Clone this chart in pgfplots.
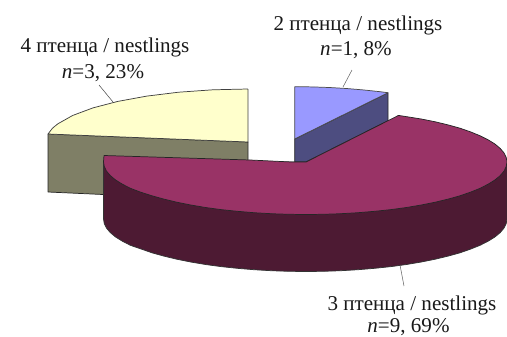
\documentclass[border=0pt]{standalone}
\usepackage{fontspec}
\setmainfont{Liberation Serif}
\usepackage{pgfplots}
\pgfplotsset{compat=1.18}
\definecolor{yellowtop}{HTML}{FFFFCC}
\definecolor{yellowside}{HTML}{7F7F66}
\definecolor{bluetop}{HTML}{9999FF}
\definecolor{blueside}{HTML}{4D4D80}
\definecolor{maroontop}{HTML}{993366}
\definecolor{maroonside}{HTML}{4D1A33}
\tikzset{lab/.style={font=\fontsize{15.8}{16}\selectfont, anchor=base, text=black!90, inner sep=0pt}}
\begin{document}
\begin{tikzpicture}
\useasboundingbox (0,0) rectangle (380.25pt,252pt);
\begin{axis}[
  scale only axis, width=380.25pt, height=252pt,
  xmin=0, xmax=507, ymin=0, ymax=336, y dir=reverse,
  hide axis, clip=false,
  every axis plot/.append style={line join=round, line width=0.55pt},
]
% 4 nestlings: side wall, then top face
\addplot[fill=yellowside, draw=black!85] coordinates {
  (48,134) (248,142) (248,200) (103,194.5) (48,192) (48,134)};
\addplot[fill=yellowtop, draw=black!75] coordinates {
  (248,89) (212.8,89.8) (178.7,92.2) (146.8,96.1) (117.8,101.4) (92.9,107.9)
  (72.6,115.5) (57.7,123.9) (52.4,128.3) (48,134) (248,142) (248,89)};
% 2 nestlings: side wall, then top face
\addplot[fill=blueside, draw=black!85] coordinates {
  (388,92.7) (388,120.7) (306,162) (294.7,162) (294.7,139) (388,92.7)};
\addplot[fill=bluetop, draw=black!70] coordinates {
  (294.7,86.7) (312.1,86.9) (329.4,87.5) (346.5,88.5) (363.1,89.9) (379.2,91.6)
  (388,92.7) (294.7,139) (294.7,86.7)};
% 3 nestlings: side wall, then top face
\addplot[fill=maroonside, draw=black!80] coordinates {
  (103.5,162) (103.5,219) (104.3,223.6) (106.5,228.1) (110.3,232.6) (115.6,237)
  (122.4,241.2) (130.4,245.3) (141.4,249.1) (152,252.8) (163.9,256.1) (176.8,259.2)
  (190.7,262) (205.5,264.5) (221,266.6) (237.3,268.3) (254,269.7) (271,270.7)
  (288.5,271.3) (306,271.5) (323.5,271.3) (341,270.7) (358,269.7) (374.7,268.3)
  (391,266.6) (406.5,264.5) (421.3,262) (435.2,259.2) (448.1,256.1) (460,252.8)
  (470.6,249.1) (480.1,245.3) (488.1,241.2) (494.9,237) (500.2,232.6) (504,228.1)
  (506.2,223.6) (507,219) (507,162) (103.5,162)};
\addplot[fill=maroontop, draw=black!85] coordinates {
  (104,155.5) (250,160) (291.7,162) (306,162) (398.5,115.4) (421.3,119) (435.2,121.8)
  (448.1,124.9) (460,128.2) (470.6,131.9) (480.1,135.8) (488.1,139.8) (494.9,144)
  (500.2,148.4) (504,152.9) (506.2,157.4) (507,162) (506.2,166.6) (504,171.1)
  (500.2,175.6) (494.9,180) (488.1,184.2) (480.1,188.3) (470.6,192.1) (460,195.8)
  (448.1,199.1) (435.2,202.2) (421.3,205) (406.5,207.5) (391,209.6) (374.7,211.3)
  (358,212.7) (341,213.7) (323.5,214.3) (306,214.5) (288.5,214.3) (271,213.7)
  (254,212.7) (237.3,211.3) (221,209.6) (205.5,207.5) (190.7,205) (176.8,202.2)
  (163.9,199.1) (152,195.8) (140.4,192.1) (130.4,188.3) (122.4,184.2) (115.6,180)
  (110.3,175.6) (106.5,171.1) (104.3,166.6) (103.5,162) (104,155.5)};
% leader lines
\addplot[draw=black!70, line width=0.4pt] coordinates {(99,85) (113,102)};
\addplot[draw=black!60, line width=0.4pt] coordinates {(352,70) (343,87)};
\addplot[draw=black!60, line width=0.4pt] coordinates {(400,265) (404,286)};
% slice labels
\node[lab] at (axis cs:105,52) {4 птенца / nestlings};
\node[lab] at (axis cs:103,78) {\textit{n}=3, 23\%};
\node[lab] at (axis cs:358,30) {2 птенца / nestlings};
\node[lab] at (axis cs:356,55) {\textit{n}=1, 8\%};
\node[lab] at (axis cs:412,310) {3 птенца / nestlings};
\node[lab] at (axis cs:408.5,332) {\textit{n}=9, 69\%};
\end{axis}
\end{tikzpicture}
\end{document}
